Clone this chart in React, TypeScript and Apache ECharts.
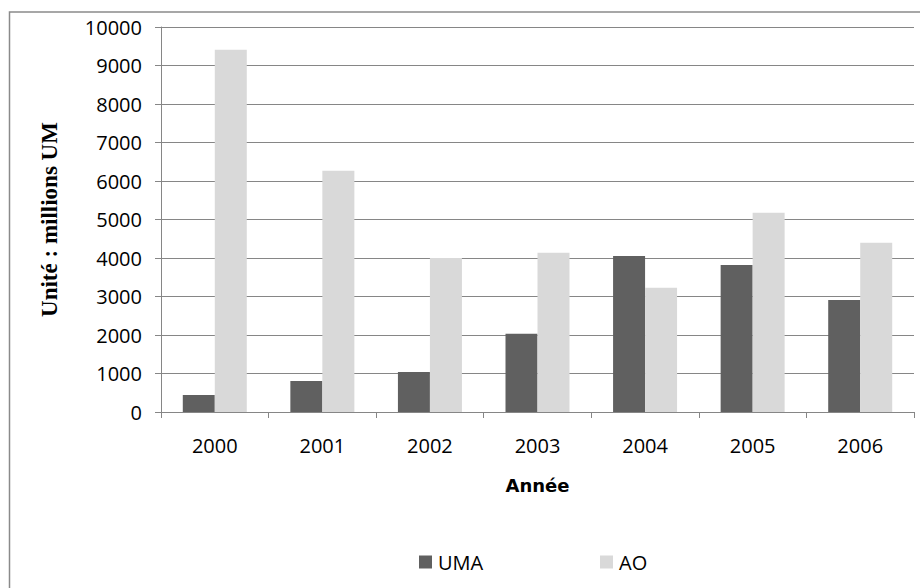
import React, { useEffect, useRef } from "react";
import * as echarts from "echarts";

const years = ["2000", "2001", "2002", "2003", "2004", "2005", "2006"];
const umaValues = [440, 805, 1040, 2030, 4055, 3820, 2910];
const aoValues = [9410, 6265, 4000, 4135, 3225, 5175, 4395];
const seriesNames = ["UMA", "AO"];

export default function App() {
  const ref = useRef<HTMLDivElement>(null);
  useEffect(() => {
    document.body.style.margin = "0";
    const chart = echarts.init(ref.current!, null, { renderer: "svg" });
    const axisColor = "#868686";
    const labelFont = "'Open Sans', sans-serif";
    chart.setOption({
      animation: false,
      backgroundColor: "#ffffff",
      graphic: [
        {
          type: "rect",
          shape: { x: 9.5, y: 12, width: 940, height: 620 },
          style: { fill: "none", stroke: "#8a8a8a", lineWidth: 1.5 },
          silent: true,
        },
      ],
      grid: { left: 161, right: 6, top: 27, bottom: 176 },
      legend: [
        {
          data: [seriesNames[0]],
          left: 414,
          top: 547,
          itemWidth: 13,
          itemHeight: 13,
          itemGap: 0,
          icon: "rect",
          textStyle: { fontFamily: labelFont, fontSize: 20, color: "#000", lineHeight: 20, padding: [0, 0, 0, 1] },
        },
        {
          data: [seriesNames[1]],
          left: 595,
          top: 547,
          itemWidth: 13,
          itemHeight: 13,
          icon: "rect",
          textStyle: { fontFamily: labelFont, fontSize: 20, color: "#000", lineHeight: 20, padding: [0, 0, 0, 1] },
        },
      ],
      xAxis: {
        type: "category",
        data: years,
        name: "Année",
        nameLocation: "middle",
        nameGap: 64,
        nameTextStyle: {
          fontFamily: "'DejaVu Sans', sans-serif",
          fontWeight: "bold",
          fontSize: 18,
          color: "#000",
        },
        axisLine: { show: true, lineStyle: { color: axisColor, width: 1 } },
        axisTick: { show: true, length: 6, alignWithLabel: false, lineStyle: { color: axisColor } },
        axisLabel: { margin: 23, fontFamily: labelFont, fontSize: 20, color: "#000" },
      },
      yAxis: {
        type: "value",
        min: 0,
        max: 10000,
        interval: 1000,
        name: "Unité : millions UM",
        nameLocation: "middle",
        nameRotate: 90,
        nameGap: 100,
        nameTextStyle: {
          fontFamily: "'Liberation Serif', 'Times New Roman', serif",
          fontWeight: "bold",
          fontSize: 23,
          color: "#000",
        },
        axisLine: { show: true, lineStyle: { color: axisColor, width: 1 } },
        axisTick: { show: true, length: 6, lineStyle: { color: axisColor } },
        splitLine: { show: true, lineStyle: { color: axisColor, width: 1 } },
        axisLabel: {
          margin: 19,
          fontFamily: labelFont,
          fontSize: 20,
          color: "#000",
          formatter: (v: number) => String(v),
        },
      },
      series: [
        {
          name: seriesNames[0],
          type: "bar",
          data: umaValues,
          barWidth: 32,
          barGap: "0%",
          itemStyle: { color: "#606060" },
        },
        {
          name: seriesNames[1],
          type: "bar",
          data: aoValues,
          barWidth: 32,
          barGap: "0%",
          itemStyle: { color: "#d9d9d9" },
        },
      ],
    });
    return () => chart.dispose();
  }, []);
  return <div ref={ref} style={{ width: 920, height: 588 }} />;
}
